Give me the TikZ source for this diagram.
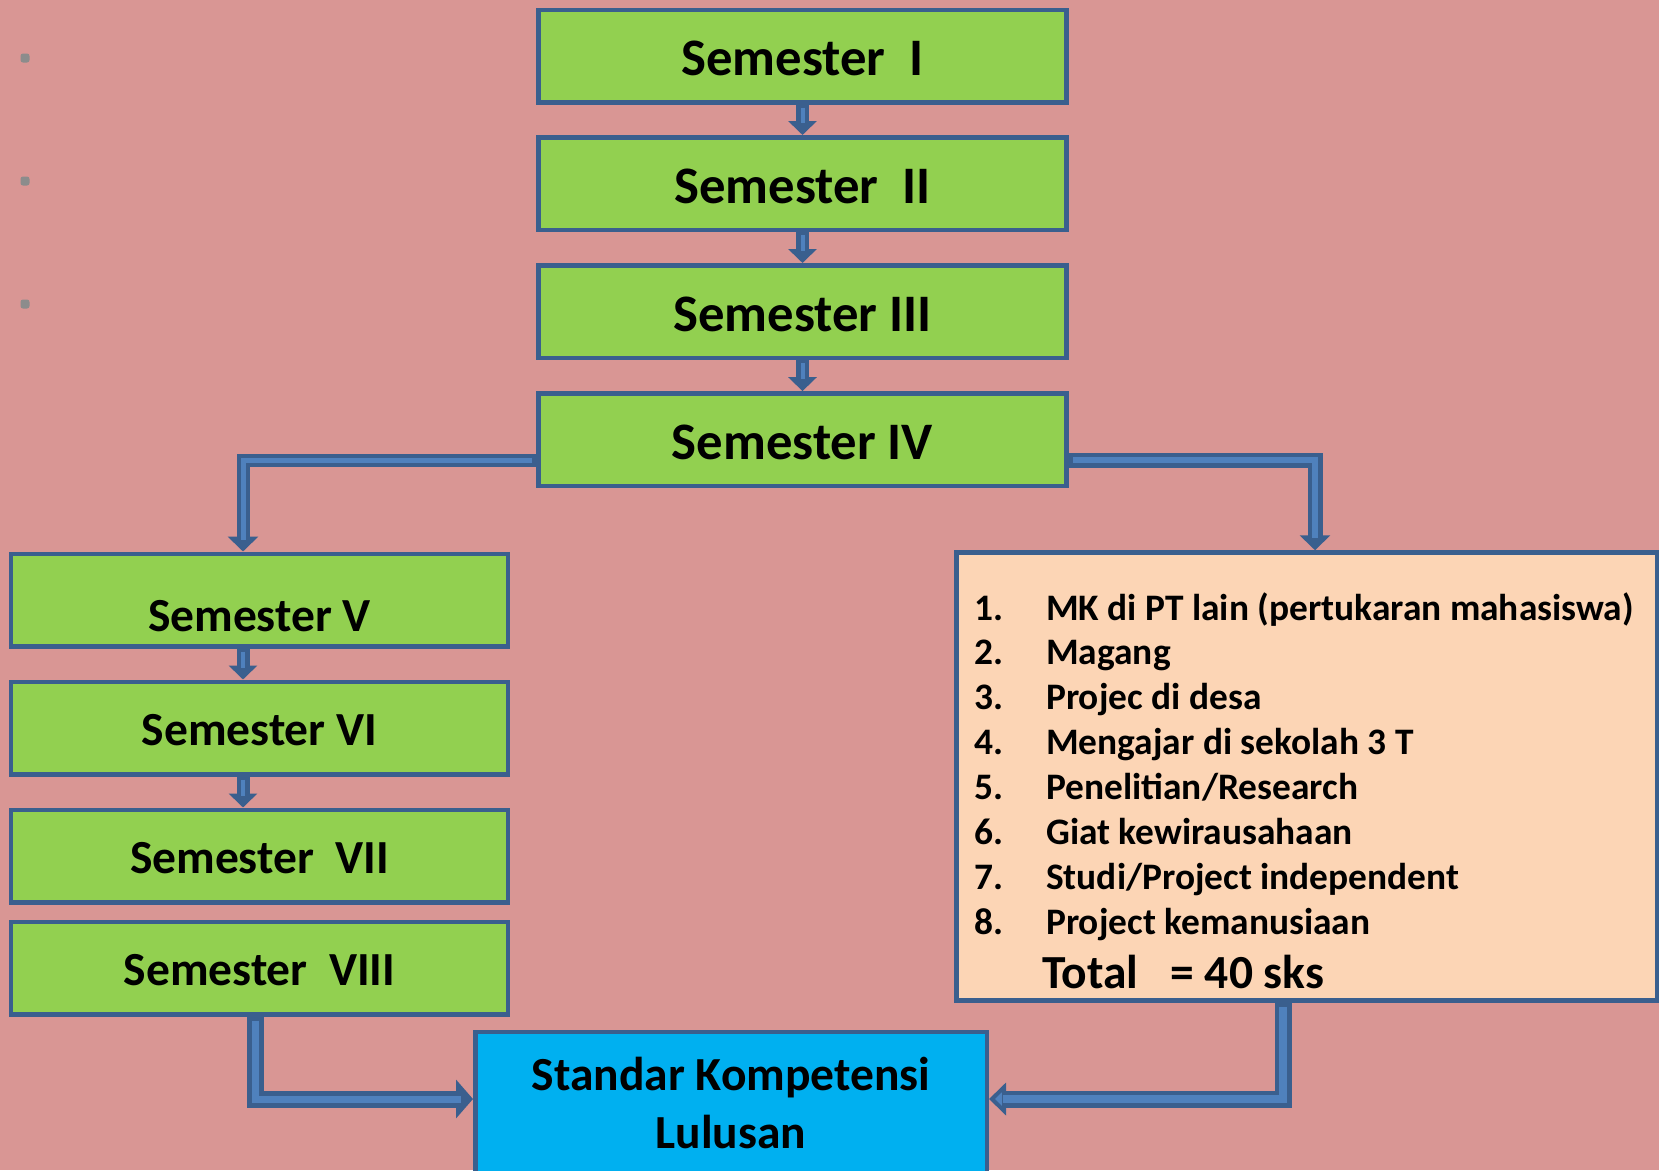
\documentclass[tikz,border=0pt]{standalone}
\usepackage{fontspec}
\setmainfont{Carlito}
\usetikzlibrary{arrows.meta,calc}
\definecolor{bg}{HTML}{D99694}
\definecolor{grn}{HTML}{92D050}
\definecolor{bdr}{HTML}{3A5F8E}
\definecolor{arw}{HTML}{4F81BD}
\definecolor{peach}{HTML}{FCD5B5}
\definecolor{cyanbox}{HTML}{00B0F0}
\definecolor{dotgray}{HTML}{8C8C8C}
\begin{document}
\begin{tikzpicture}[x=1pt,y=-1pt,
  semtop/.style={draw=bdr, line width=4.5pt, fill=grn, minimum width=528pt, minimum height=92.5pt, inner sep=0pt, text height=39pt, text depth=0pt, font=\fontsize{52.7}{60}\selectfont\bfseries},
  semleft/.style={semtop, minimum width=497pt, text height=35.5pt, font=\fontsize{47.5}{55}\selectfont\bfseries},
  listtxt/.style={anchor=base west, inner sep=0pt, font=\fontsize{37.4}{44}\selectfont\bfseries},
  dotn/.style={fill=dotgray, rounded corners=2.5pt, minimum size=9pt, inner sep=0pt},
  vout/.style={draw=bdr, line width=13pt, -{Triangle[length=14pt,width=28pt]}},
  vin/.style={draw=arw, line width=4pt, shorten >=12pt, shorten <=3pt},
  bout/.style={draw=bdr, line width=#1, line join=miter, -{Triangle[length=15pt,width=30pt]}},
  bin/.style={draw=arw, line width=#1, line join=miter, shorten >=12pt, shorten <=4pt},
]
\useasboundingbox (0,0) rectangle (1659,1170);
\clip (0,0) rectangle (1659,1170);
\fill[bg] (0,0) rectangle (1659,1170);

% bullets
\node[dotn] (d1) at (25,58) {};
\node[dotn] (d2) at (25,181) {};
\node[dotn] (d3) at (25,304) {};

% semesters
\node[semtop] (s1) at (802.5,56) {Semester\ \ I};
\node[semtop] (s2) at (802.5,183.5) {Semester\ \ II};
\node[semtop] (s3) at (802.5,311.5) {Semester III};
\node[semtop] (s4) at (802.5,439.6) {Semester IV};
\node[semleft, text height=62pt, text depth=0pt] (s5) at (259.5,600) {Semester V};
\node[semleft] (s6) at (259.5,728) {Semester VI};
\node[semleft] (s7) at (259.5,856) {Semester\ \ VII};
\node[semleft] (s8) at (259.5,968) {Semester\ \ VIII};

% activity box
\node[draw=bdr, line width=4.5pt, fill=peach, minimum width=701pt, minimum height=448pt, inner sep=0pt] (act) at (1307,776.5) {};
\node[listtxt] (l1) at (974.5,620) {\makebox[71.5pt][l]{1.}MK di PT lain (pertukaran mahasiswa)};
\node[listtxt] (l2) at (974.5,664.9) {\makebox[71.5pt][l]{2.}Magang};
\node[listtxt] (l3) at (974.5,709.8) {\makebox[71.5pt][l]{3.}Projec di desa};
\node[listtxt] (l4) at (974.5,754.7) {\makebox[71.5pt][l]{4.}Mengajar di sekolah 3 T};
\node[listtxt] (l5) at (974.5,799.6) {\makebox[71.5pt][l]{5.}Penelitian/Research};
\node[listtxt] (l6) at (974.5,844.5) {\makebox[71.5pt][l]{6.}Giat kewirausahaan};
\node[listtxt] (l7) at (974.5,889.4) {\makebox[71.5pt][l]{7.}Studi/Project independent};
\node[listtxt] (l8) at (974.5,934.3) {\makebox[71.5pt][l]{8.}Project kemanusiaan};
\node[listtxt, font=\fontsize{47.5}{54}\selectfont\bfseries] (tot) at (1042,988) {Total\ \ \ = 40 sks};

% standar box
\node[draw=bdr, line width=4.5pt, fill=cyanbox, minimum width=511.5pt, minimum height=188pt, inner sep=0pt] (skl) at (731,1125.8) {};
\node[anchor=base, inner sep=0pt, font=\fontsize{47.5}{55}\selectfont\bfseries] (skt1) at (731,1090) {Standar Kompetensi};
\node[anchor=base, inner sep=0pt, font=\fontsize{47.5}{55}\selectfont\bfseries] (skt2) at (731,1148) {Lulusan};

% vertical arrows between top semesters
\foreach \a/\b in {s1/s2,s2/s3,s3/s4}{
  \draw[vout] (\a.south) -- (\b.north);
  \draw[vin] (\a.south) -- (\b.north);
}
\foreach \a/\b in {s5/s6,s6/s7}{
  \draw[vout] (\a.south -| 243,0) -- (\b.north -| 243,0);
  \draw[vin] (\a.south -| 243,0) -- (\b.north -| 243,0);
}

% left branch
\coordinate (jl) at (243,460);
\draw[bout=13pt] (s4.west |- jl) -| (s5.north -| jl);
\draw[bin=5pt] (s4.west |- jl) -| (s5.north -| jl);

% right branch
\coordinate (jr) at (1315,460);
\draw[bout=15pt] (s4.east |- jr) -| (act.north -| jr);
\draw[bin=6pt] (s4.east |- jr) -| (act.north -| jr);

% bottom left
\coordinate (jb) at (255,1099);
\draw[draw=bdr, line width=17pt, line join=miter, -{Triangle[length=17pt,width=38pt]}] (s8.south -| jb) |- (skl.west |- jb);
\draw[bin=7pt] (s8.south -| jb) |- (skl.west |- jb);

% bottom right
\coordinate (jc) at (1283,1099);
\draw[draw=bdr, line width=17pt, line join=miter, shorten >=10pt] (act.south -| jc) |- (skl.east |- jc);
\draw[draw=arw, line width=8pt, line join=miter, shorten <=4pt, -{Triangle[length=17pt,width=32pt,fill=arw,line width=4pt]}, color=bdr] (act.south -| jc) |- (skl.east |- jc);
\draw[draw=arw, line width=8pt, line join=miter, shorten >=14pt, shorten <=4pt] (act.south -| jc) |- (skl.east |- jc);
\end{tikzpicture}
\end{document}
